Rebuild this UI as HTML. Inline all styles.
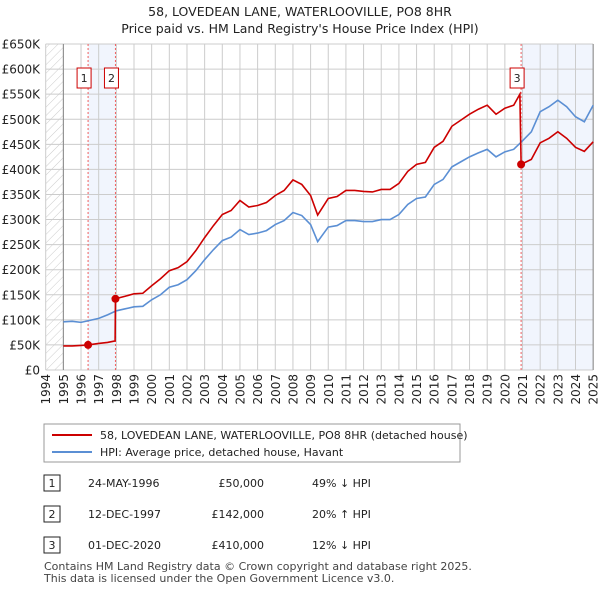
<!DOCTYPE html>
<html><head><meta charset="utf-8"><style>
body{margin:0;background:#fff;font-family:"Liberation Sans","DejaVu Sans",sans-serif;}
svg text{font-family:"DejaVu Sans","Liberation Sans",sans-serif;}
</style></head><body>
<svg id="c" width="600" height="590" xmlns="http://www.w3.org/2000/svg">
<defs><pattern id="hatch" width="6" height="6" patternUnits="userSpaceOnUse" patternTransform="rotate(45)"><line x1="0" y1="0" x2="0" y2="6" stroke="#ccc" stroke-width="1"/></pattern></defs>
<text x="300" y="16" text-anchor="middle" font-size="12.5" fill="#222">58, LOVEDEAN LANE, WATERLOOVILLE, PO8 8HR</text>
<text x="300" y="33" text-anchor="middle" font-size="12.5" fill="#222">Price paid vs. HM Land Registry's House Price Index (HPI)</text>
<g id="plot"></g>
<g>
<rect x="44" y="424" width="416" height="38" fill="#fff" stroke="#999"/>
<line x1="52" y1="435" x2="92" y2="435" stroke="#cc0000" stroke-width="2"/>
<text x="100" y="439" font-size="11" fill="#222">58, LOVEDEAN LANE, WATERLOOVILLE, PO8 8HR (detached house)</text>
<line x1="52" y1="452" x2="92" y2="452" stroke="#5b8fd4" stroke-width="2"/>
<text x="100" y="456" font-size="11" fill="#222">HPI: Average price, detached house, Havant</text>
</g>
<g font-size="11" fill="#222">
<rect x="44" y="475" width="16" height="16" fill="#fff" stroke="#222"/><text x="52" y="487" text-anchor="middle">1</text>
<text x="88" y="487">24-MAY-1996</text><text x="264" y="487" text-anchor="end">£50,000</text><text x="312" y="487">49% ↓ HPI</text>
<rect x="44" y="506" width="16" height="16" fill="#fff" stroke="#222"/><text x="52" y="518" text-anchor="middle">2</text>
<text x="88" y="518">12-DEC-1997</text><text x="264" y="518" text-anchor="end">£142,000</text><text x="312" y="518">20% ↑ HPI</text>
<rect x="44" y="537" width="16" height="16" fill="#fff" stroke="#222"/><text x="52" y="549" text-anchor="middle">3</text>
<text x="88" y="549">01-DEC-2020</text><text x="264" y="549" text-anchor="end">£410,000</text><text x="312" y="549">12% ↓ HPI</text>
</g>
<text x="44" y="570" font-size="11" fill="#444">Contains HM Land Registry data © Crown copyright and database right 2025.</text>
<text x="44" y="582" font-size="11" fill="#444">This data is licensed under the Open Government Licence v3.0.</text>
</svg>
<script>
const yTicks=[0,50,100,150,200,250,300,350,400,450,500,550,600,650];
const yLabels=["£0","£50K","£100K","£150K","£200K","£250K","£300K","£350K","£400K","£450K","£500K","£550K","£600K","£650K"];
const years=[1994,1995,1996,1997,1998,1999,2000,2001,2002,2003,2004,2005,2006,2007,2008,2009,2010,2011,2012,2013,2014,2015,2016,2017,2018,2019,2020,2021,2022,2023,2024,2025];
const hpiDates=[1995,1995.5,1996,1996.5,1997,1997.5,1998,1998.5,1999,1999.5,2000,2000.5,2001,2001.5,2002,2002.5,2003,2003.5,2004,2004.5,2005,2005.5,2006,2006.5,2007,2007.5,2008,2008.5,2009,2009.4,2010,2010.5,2011,2011.5,2012,2012.5,2013,2013.5,2014,2014.5,2015,2015.5,2016,2016.5,2017,2017.5,2018,2018.5,2019,2019.5,2020,2020.5,2021,2021.5,2022,2022.5,2023,2023.5,2024,2024.5,2025];
const hpiValues=[96,97,95,99,103,110,118,122,126,127,140,150,165,170,180,198,220,240,258,265,280,270,273,278,290,298,314,308,290,256,285,288,298,298,296,296,300,300,310,330,342,345,370,380,405,415,425,433,440,425,435,440,457,475,515,525,538,525,505,495,528];
const priceDates=[1995,1995.5,1996,1996.4,1997,1997.5,1997.93,1997.95,1998.5,1999,1999.5,2000,2000.5,2001,2001.5,2002,2002.5,2003,2003.5,2004,2004.5,2005,2005.5,2006,2006.5,2007,2007.5,2008,2008.5,2009,2009.4,2010,2010.5,2011,2011.5,2012,2012.5,2013,2013.5,2014,2014.5,2015,2015.5,2016,2016.5,2017,2017.5,2018,2018.5,2019,2019.5,2020,2020.5,2020.85,2020.92,2021.5,2022,2022.5,2023,2023.5,2024,2024.5,2025];
const priceValues=[48,48,49,50,53,55,58,142,147,152,153,168,182,198,204,216,238,264,288,310,318,338,325,328,334,348,358,379,370,348,309,342,346,358,358,356,355,360,360,372,396,410,414,444,456,486,498,510,520,528,510,522,528,550,410,420,453,462,475,462,444,436,455];
const saleDates=[1996.4,1997.95,2020.92];
const saleValues=[50,142,410];
const saleLabels=["1","2","3"];

const NS="http://www.w3.org/2000/svg";
const X0=45.7,XW=17.66,Y0=370,YS=0.5015;
const x=t=>X0+(t-1994)*XW, y=v=>Y0-v*YS;
const g=document.getElementById('plot');
function mk(tag,a){const e=document.createElementNS(NS,tag);for(const k in a)e.setAttribute(k,a[k]);g.appendChild(e);return e;}
const xr=x(2025);
let e;
e=mk('rect',{x:x(1994),y:y(650),width:x(1995)-x(1994),height:y(0)-y(650),fill:'url(#hatch)'});


e=mk('rect',{x:x(saleDates[0]),y:y(650),width:x(saleDates[1])-x(saleDates[0]),height:y(0)-y(650),fill:'#eef3fc',opacity:0.8});


e=mk('rect',{x:x(saleDates[2]),y:y(650),width:xr-x(saleDates[2]),height:y(0)-y(650),fill:'#eef3fc',opacity:0.8});


yTicks.forEach((v,i)=>{
 e=mk('line',{x1:x(1994),x2:xr,y1:y(v),y2:y(v),stroke:'#ccc'});
 
 
 e=mk('text',{x:40,y:y(v)+4.5,'text-anchor':'end','font-size':12,fill:'#222'});e.textContent=yLabels[i];
 
 
});
years.forEach(t=>{
 e=mk('line',{x1:x(t),x2:x(t),y1:y(650),y2:y(0),stroke:'#ccc'});
 
 
 e=mk('text',{x:0,y:0,'text-anchor':'end','font-size':12,fill:'#222',transform:`translate(${x(t)+4.5},374) rotate(-90)`});e.textContent=t;
 
 
});
e=mk('line',{x1:x(1995),x2:x(1995),y1:y(650),y2:y(0),stroke:'#888'});


e=mk('line',{x1:xr,x2:xr,y1:y(650),y2:y(0),stroke:'#888'});


saleDates.forEach(t=>{
 e=mk('line',{x1:x(t),x2:x(t),y1:y(650),y2:y(0),stroke:'#f06060','stroke-dasharray':'2,2'});
 
 
});
e=mk('polyline',{points:hpiDates.map((t,i)=>x(t)+','+y(hpiValues[i])).join(' '),fill:'none',stroke:'#5b8fd4','stroke-width':1.6});


e=mk('polyline',{points:priceDates.map((t,i)=>x(t)+','+y(priceValues[i])).join(' '),fill:'none',stroke:'#cc0000','stroke-width':1.6});


saleDates.forEach((t,i)=>{
 e=mk('circle',{cx:x(t),cy:y(saleValues[i]),r:4,fill:'#cc0000'});
 
 
 e=mk('rect',{x:x(t)-11,y:68,width:14,height:20,fill:'#fff',stroke:'#cc0000'});
 
 
 e=mk('text',{x:x(t)-4,y:82,'text-anchor':'middle','font-size':11,fill:'#222'});e.textContent=saleLabels[i];
 
 
});
</script>
</body></html>
